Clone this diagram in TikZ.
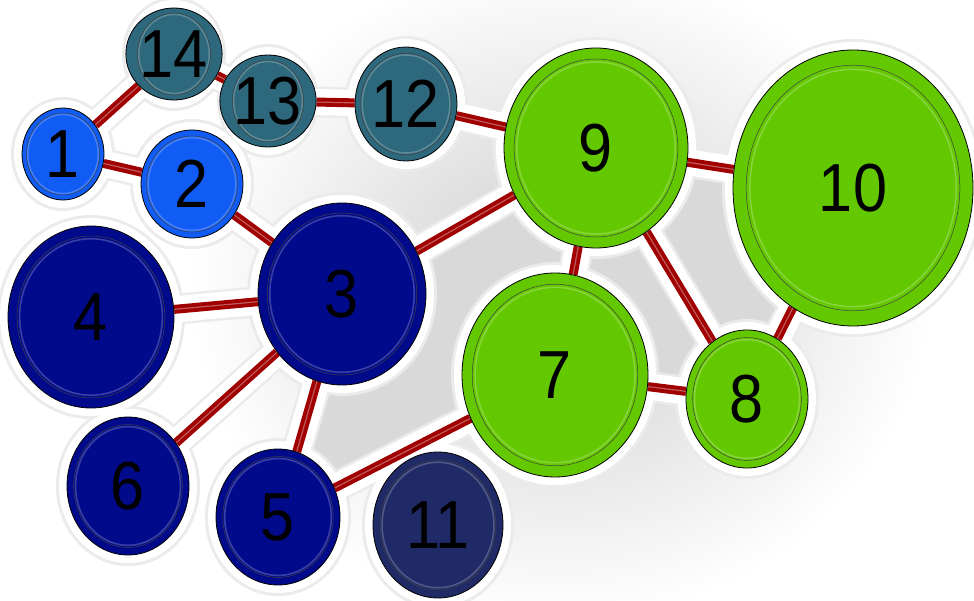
\documentclass[tikz,border=0pt]{standalone}
\usepackage{fontspec}
\newfontfamily\numfont[FakeStretch=0.9]{Liberation Sans}
\usepackage{xcolor}
\definecolor{bblue}{RGB}{16,92,245}
\definecolor{navy}{RGB}{2,10,140}
\definecolor{slate}{RGB}{32,42,102}
\definecolor{teal}{RGB}{46,104,124}
\definecolor{lime}{RGB}{100,200,0}
\definecolor{edgered}{RGB}{160,0,0}
\usepackage{tikz}
\usetikzlibrary{shapes.geometric}
\pgfdeclarelayer{shadow}
\pgfdeclarelayer{halo}
\pgfdeclarelayer{links}
\pgfsetlayers{shadow,halo,links,main}
\tikzset{
  nd_bub/.style={ellipse,inner sep=0pt,
    draw=black,line width=0.8pt,
    font=\numfont\fontsize{68}{68}\selectfont,text=black},
  ring_dark/.style={draw=black!75,line width=0.5pt},
  ring_lite/.style={line width=1.6pt,draw opacity=0.4},
  lk_edge/.style={draw=edgered,line width=9pt,
    postaction={draw=white,draw opacity=0.35,line width=1.2pt}},
  lk_halo/.style={draw=white,line width=26pt},
  lk_rim/.style={draw=black!8,line width=31pt},
}
\newcommand\nodelist{1/63/154/82/92/bblue, 2/192/184/102/108/bblue,
  14/174/54/82/92/teal, 13/268/101/80/92/teal, 12/406/104/102/114/teal,
  9/596/148/184/200/lime, 10/853/188/240/276/lime,
  3/342/294/168/182/navy, 4/91/317/166/182/navy,
  7/555/375/186/204/lime, 8/747/399/122/138/lime,
  6/128/486/122/138/navy, 5/278/517/124/136/navy,
  11/438/525/130/146/slate}
\newcommand\linklist{14/1, 14/13, 13/12, 12/9, 1/2, 2/3, 3/4, 3/9,
  3/6, 3/5, 5/7, 9/7, 9/8, 9/10, 10/8, 7/8}

\begin{document}
\begin{tikzpicture}[x=1pt,y=-1pt]
  \useasboundingbox (0,0) rectangle (974,601);
  % nodes
  \foreach \n/\x/\y/\w/\h/\c in \nodelist {
    \node (n\n) [nd_bub,fill=\c,minimum width=\w pt,minimum height=\h pt,
      path picture={
        \draw[ring_lite,draw=\c!45!white]
          (path picture bounding box.center) ellipse ({0.43*\w} and {0.43*\h});
        \draw[ring_dark]
          (path picture bounding box.center) ellipse ({0.445*\w} and {0.445*\h});
      }] at (\x,\y) {\n};
  }
  % soft shadow behind the graph
  \begin{pgfonlayer}{shadow}
    \shade[inner color=black!20,outer color=white]
      (560,290) ellipse (370 and 330);
    \fill[black!15] (n3.center) -- (n9.center) -- (n7.center) -- (n5.center) -- cycle;
    \fill[black!15] (n9.center) -- (n10.center) -- (n8.center) -- (n7.center) -- cycle;
  \end{pgfonlayer}
  % white outline round nodes and links
  \begin{pgfonlayer}{halo}
    \foreach \a/\b in \linklist
      \draw[lk_rim] (n\a.center) -- (n\b.center);
    \foreach \n/\x/\y/\w/\h/\c in \nodelist
      \fill[black!8] (n\n.center) ellipse ({\w/2+11} and {\h/2+11});
    \foreach \a/\b in \linklist
      \draw[lk_halo] (n\a.center) -- (n\b.center);
    \foreach \n/\x/\y/\w/\h/\c in \nodelist
      \fill[white] (n\n.center) ellipse ({\w/2+8} and {\h/2+8});
  \end{pgfonlayer}
  % links
  \begin{pgfonlayer}{links}
    \foreach \a/\b in \linklist
      \draw[lk_edge] (n\a) -- (n\b);
  \end{pgfonlayer}
\end{tikzpicture}
\end{document}
